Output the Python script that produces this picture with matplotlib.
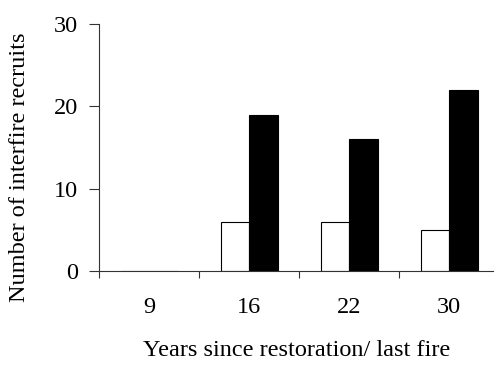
import numpy as np
import matplotlib
matplotlib.use('Agg')
import matplotlib.pyplot as plt

# ── Data ──────────────────────────────────────────────────────────────────────
years        = ['9', '16', '22', '30']
open_recruits  = [0, 6, 6, 5]      # white bars
solid_recruits = [0, 19, 16, 22]   # black bars

plt.rcParams['font.family'] = ['Liberation Serif', 'DejaVu Serif']
plt.rcParams['font.size'] = 17.5

fig = plt.figure(figsize=(4.97, 3.65), dpi=100)
ax  = fig.add_axes([99/497, 94/365, 394/497, 247/365])

x = np.arange(len(years))
w = 0.285
ax.bar(x - w/2, open_recruits, w, color='white', edgecolor='black', linewidth=0.8)
ax.bar(x + w/2, solid_recruits, w, color='black', edgecolor='black', linewidth=0.8)

ax.set_xlim(-0.5, 3.44)
ax.set_ylim(0, 30)
ax.set_yticks([0, 10, 20, 30])

# labels at category centres, tick marks at the boundaries
ax.set_xticks(x)
ax.set_xticklabels(years)
ax.set_xticks(np.arange(len(years)) - 0.5, minor=True)
ax.tick_params(axis='x', which='major', length=0, pad=19)
ax.tick_params(axis='x', which='minor', length=5, width=0.8, direction='out', color='#333333')
ax.tick_params(axis='y', length=7, width=0.8, direction='out', pad=8, color='#333333')

for side in ['top', 'right']:
    ax.spines[side].set_visible(False)
for side in ['left', 'bottom']:
    ax.spines[side].set_linewidth(0.8)
    ax.spines[side].set_color('#333333')

fig.text(297/497, 1 - 350/365, 'Years since restoration/ last fire',
         ha='center', va='center', fontsize=17.5)
fig.text(20/497, 1 - 167/365, 'Number of interfire recruits',
         ha='center', va='center', rotation=90, fontsize=17.5)

plt.savefig('out.png', dpi=100)
plt.close()
